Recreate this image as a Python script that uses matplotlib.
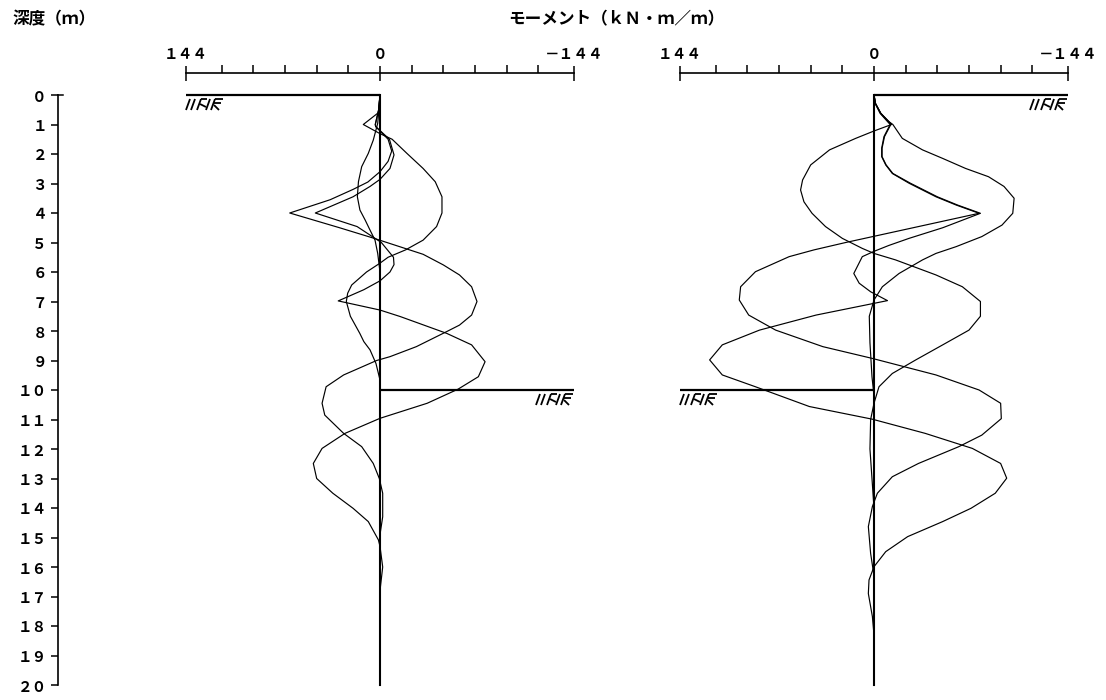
import matplotlib
matplotlib.use('Agg')
import matplotlib.pyplot as plt
from matplotlib.transforms import Affine2D, ScaledTranslation

CJK = ['Noto Sans CJK JP', 'DejaVu Sans']
plt.rcParams['font.family'] = CJK

# ---------------- data ----------------
depth_ticks = list(range(0, 21))
depth_labels = ['０', '１', '２', '３', '４', '５', '６', '７', '８', '９', '１０',
                '１１', '１２', '１３', '１４', '１５', '１６', '１７', '１８', '１９', '２０']
moment_major = [144, 0, -144]
moment_major_labels = ['１４４', '０', '－１４４']
moment_minor = [117.5, 94, 70.5, 47, 23.5, -23.5, -47, -70.5, -94, -117.5]

title_depth = '深度（ｍ）'
title_moment = 'モーメント（ｋＮ・ｍ／ｍ）'

pile_depth = [0, 20]
pile_moment = [0, 0]

# left panel: ground surface and excavation level
left_ground_m = [144, 0]
left_ground_d = [0, 0]
left_exc_m = [0, -144]
left_exc_d = [10, 10]
# right panel
right_ground_m = [0, -144]
right_ground_d = [0, 0]
right_exc_m = [144, 0]
right_exc_d = [10, 10]

# left panel curves (depth m, moment kN*m/m)
L0_d = [0, 0.5, 0.96, 1.53, 1.98, 2.43, 2.94, 3.45, 3.9, 4.24, 4.58, 4.92, 5.37, 6.0, 20]
L0_m = [0, 0.8, 1.7, 5, 8.7, 13.6, 16, 16.8, 14.9, 11, 7.4, 3.7, 1.7, 0, 0]

La_d = [0, 0.6, 1.0, 1.31, 1.5, 1.98, 2.49, 2.94, 3.45, 4.0, 4.46, 4.92, 5.25, 5.5, 5.7,
        6.0, 6.44, 6.72, 7.0, 7.5, 8.08, 8.36, 8.64, 9.1, 9.66, 20]
La_m = [0, 1.2, 12.4, 0, -9, -20, -32, -41, -46, -46, -42, -32, -19, -6, 0,
        10, 21, 24, 25, 22, 15, 12, 7.4, 3, 0, 0]

Lb_d = [0, 0.5, 1.0, 1.07, 1.5, 1.9, 2.25, 2.6, 2.95, 3.2, 3.55, 4.0, 4.5, 4.85, 5.4, 5.76,
        6.1, 6.5, 7.0, 7.46, 7.8, 8.02, 8.53, 8.87, 9.0, 9.49, 9.89, 10.45, 10.85, 11.47,
        11.92, 12.49, 13.0, 13.5, 14.3, 14.9, 20]
Lb_m = [0, 1, 3.5, 3.2, -6, -8.7, -6, 0, 9, 20, 37, 67, 30, 5, -32, -47,
        -59, -68, -72, -68, -59, -49.5, -27, -7.4, 2.5, 27, 40, 43, 41, 27,
        13.6, 5, 0.5, -2, -2, 0, 0]

Lc_d = [0, 0.5, 1.0, 1.07, 1.5, 2.03, 2.49, 2.86, 3.1, 3.45, 4.0, 4.46, 5.0, 5.5, 5.75, 6.0,
        6.3, 6.6, 6.98, 7.29, 7.51, 8.08, 8.47, 9.04, 9.55, 9.97, 10.45, 10.96, 11.47,
        11.98, 12.49, 13.0, 13.5, 14.01, 14.46, 15.08, 15.3, 16.0, 16.8, 20]
Lc_m = [0, 1, 3.5, 3.2, -7, -10.4, -7.4, 0, 7.4, 20, 48, 17, -1, -10, -10.4, -7.4,
        0, 12, 31, 0, -15, -49.5, -68, -78, -73, -58, -35, 0, 26,
        43, 49.5, 47, 35, 20, 8.7, 1.2, 0, -2, 0, 0]

# right panel curves
R1_d = [0, 0.28, 0.62, 0.9, 1.0, 1.47, 1.86, 2.15, 2.49, 2.77, 3.1, 3.5, 4.01, 4.41, 4.8,
        5.14, 5.37, 5.59, 6.05, 6.5, 6.95, 7.5, 8.4, 9.55, 10.2, 20]
R1_m = [0, -1, -5, -11, -14, -21, -36, -51, -68, -85, -96.5, -104, -103, -95, -80,
        -61, -46, -36, -18.6, -6.2, 0, 3.5, 3, 1.5, 0, 0]

Ra_d = [0, 0.28, 0.62, 0.9, 1.0, 1.22, 1.47, 1.86, 2.37, 2.88, 3.22, 3.62, 4.01, 4.46, 4.86,
        5.2, 5.37, 5.59, 6.1, 6.5, 7.0, 7.5, 7.97, 8.47, 8.98, 9.44, 9.89, 10.45, 11.0,
        12.0, 13.0, 14.0, 20]
Ra_m = [0, -1, -5, -11, -13, 0, 13.6, 33, 47, 53, 54.5, 52, 46, 36, 23.5,
        8.7, 0, -16, -46, -65.6, -79, -79, -70.5, -51, -31, -13.6, -3.7, 0, 2.5,
        3, 1.5, 0, 0]

Rb_d = [0, 0.3, 0.62, 0.9, 1.0, 1.41, 1.8, 2.09, 2.37, 2.66, 2.99, 3.45, 3.73, 4.01, 4.5,
        5.0, 5.25, 5.48, 5.99, 6.5, 6.95, 7.46, 7.97, 8.53, 8.93, 9.49, 10.0, 10.45, 10.97,
        11.53, 11.92, 12.49, 12.94, 13.5, 13.95, 14.63, 15.54, 16.3, 20]
Rb_m = [0, -1, -4.5, -10, -12, -7.4, -5.7, -5.7, -8.7, -13.6, -26, -46, -61, -78, -29,
        21, 44.5, 63, 88, 99, 100, 93, 73, 38, 1.2, -46, -78, -94, -94.5,
        -80, -63, -33, -13.6, -2.5, 1.2, 4.2, 2.5, 0, 0]

Rc_d = [0, 0.3, 0.62, 0.9, 1.0, 1.41, 1.8, 2.09, 2.37, 2.66, 2.99, 3.45, 3.73, 4.01, 4.5,
        4.86, 5.1, 5.3, 5.48, 6.05, 6.38, 6.67, 6.97, 7.46, 7.97, 8.47, 8.98, 9.49, 9.89,
        10.56, 10.99, 11.47, 11.98, 12.49, 12.99, 13.5, 14.01, 14.46, 14.97, 15.48, 15.99,
        16.44, 16.9, 17.68, 18.3, 20]
Rc_m = [0, -1.2, -5, -10.5, -12.5, -7.8, -6, -6, -9, -14, -27, -47, -62, -79, -51,
        -26, -11, 0, 8.7, 15, 11, 2.5, -10, 43, 85, 112.6, 122, 112.6, 88,
        48, 1.2, -38, -73, -94, -98.5, -90, -72, -51, -25, -8.7, 0,
        3.7, 4.2, 1.2, 0, 0]

left_curves = [(L0_m, L0_d), (La_m, La_d), (Lb_m, Lb_d), (Lc_m, Lc_d)]
right_curves = [(R1_m, R1_d), (Ra_m, Ra_d), (Rb_m, Rb_d), (Rc_m, Rc_d)]

# ---------------- layout ----------------
W, H = 1106, 700
fig = plt.figure(figsize=(W / 100, H / 100), dpi=100)
PT = 72 / 100  # points per pixel


def px_axes(x0, y0, x1, y1):
    return [x0 / W, 1 - y1 / H, (x1 - x0) / W, (y1 - y0) / H]


TOP, BOT = 95, 685
LBL_SIZE = 10.5

# depth axis
ax0 = fig.add_axes(px_axes(57.5, TOP, 67.5, BOT))
ax0.set_ylim(20, 0)
ax0.set_xlim(0, 1)
for s in ['top', 'right', 'bottom']:
    ax0.spines[s].set_visible(False)
ax0.spines['left'].set_linewidth(1.2)
ax0.set_xticks([])
ax0.set_yticks(depth_ticks)
ax0.set_yticklabels(depth_labels, fontweight='bold')
ax0.tick_params(axis='y', direction='out', length=7 * PT, width=1.1, pad=2.5,
                labelsize=LBL_SIZE)
ax0.set_facecolor('none')
ax0.plot([0, 0.5], [0, 0], color='black', lw=1.1, clip_on=False)


# ground hatch mark strokes (pixel offsets, x to the right, y up)
HATCH = [
    ((0, -15), (4, -4)), ((5, -15), (9, -4)),
    ((11, -15), (15, -4)), ((15, -4), (21, -4)), ((14, -9), (20, -12)),
    ((20, -15), (24, -4)), ((25, -15), (29, -4)),
    ((29, -4), (37, -4)), ((28, -8), (35, -8)), ((28, -10), (33, -15)),
]
HATCH_W = 38


def ground_mark(ax, xd, yd, from_left):
    off = 0 if from_left else -HATCH_W
    tr = Affine2D() + ScaledTranslation(xd, yd, ax.transData)
    for (a, b) in HATCH:
        ax.plot([a[0] + off, b[0] + off], [a[1], b[1]], color='black', lw=1.3,
                transform=tr, clip_on=False, solid_capstyle='butt')


panels = [((186, 574), left_curves), ((680, 1068), right_curves)]
axes = []
for (x0, x1), curves in panels:
    ax = fig.add_axes(px_axes(x0, TOP, x1, BOT))
    ax.set_xlim(144, -144)
    ax.set_ylim(20, 0)
    ax.set_facecolor('none')
    for s in ['left', 'right', 'bottom']:
        ax.spines[s].set_visible(False)
    ax.spines['top'].set_position(('outward', 22 * PT))
    ax.spines['top'].set_linewidth(1.2)
    ax.xaxis.set_ticks_position('top')
    ax.set_xticks(moment_major)
    ax.set_xticklabels(moment_major_labels, fontweight='bold')
    ax.set_xticks(moment_minor, minor=True)
    ax.tick_params(axis='x', which='major', direction='inout', length=15 * PT,
                   width=1.1, labelsize=LBL_SIZE, pad=2.5)
    ax.tick_params(axis='x', which='minor', direction='out', length=8 * PT, width=1.1)
    ax.set_yticks([])
    for m, d in curves:
        ax.plot(m, d, color='black', lw=0.85, clip_on=False)
    ax.plot(pile_moment, pile_depth, color='black', lw=1.5, clip_on=False)
    axes.append(ax)

axL, axR = axes
for ax, (gm, gd), (em, ed) in [(axL, (left_ground_m, left_ground_d), (left_exc_m, left_exc_d)),
                               (axR, (right_ground_m, right_ground_d), (right_exc_m, right_exc_d))]:
    ax.plot(gm, gd, color='black', lw=1.6, solid_capstyle='butt', clip_on=False)
    ax.plot(em, ed, color='black', lw=1.6, solid_capstyle='butt', clip_on=False)

ground_mark(axL, left_ground_m[0], left_ground_d[0], True)
ground_mark(axL, left_exc_m[1], left_exc_d[1], False)
ground_mark(axR, right_ground_m[1], right_ground_d[1], False)
ground_mark(axR, right_exc_m[0], right_exc_d[0], True)

fig.text(12 / W, 1 - 19 / H, title_depth, ha='left', va='center', fontsize=12,
         fontweight='bold', family=CJK)
fig.text(616 / W, 1 - 19 / H, title_moment, ha='center', va='center', fontsize=12,
         fontweight='bold', family=CJK)

fig.savefig('out.png', dpi=100, facecolor='white')
